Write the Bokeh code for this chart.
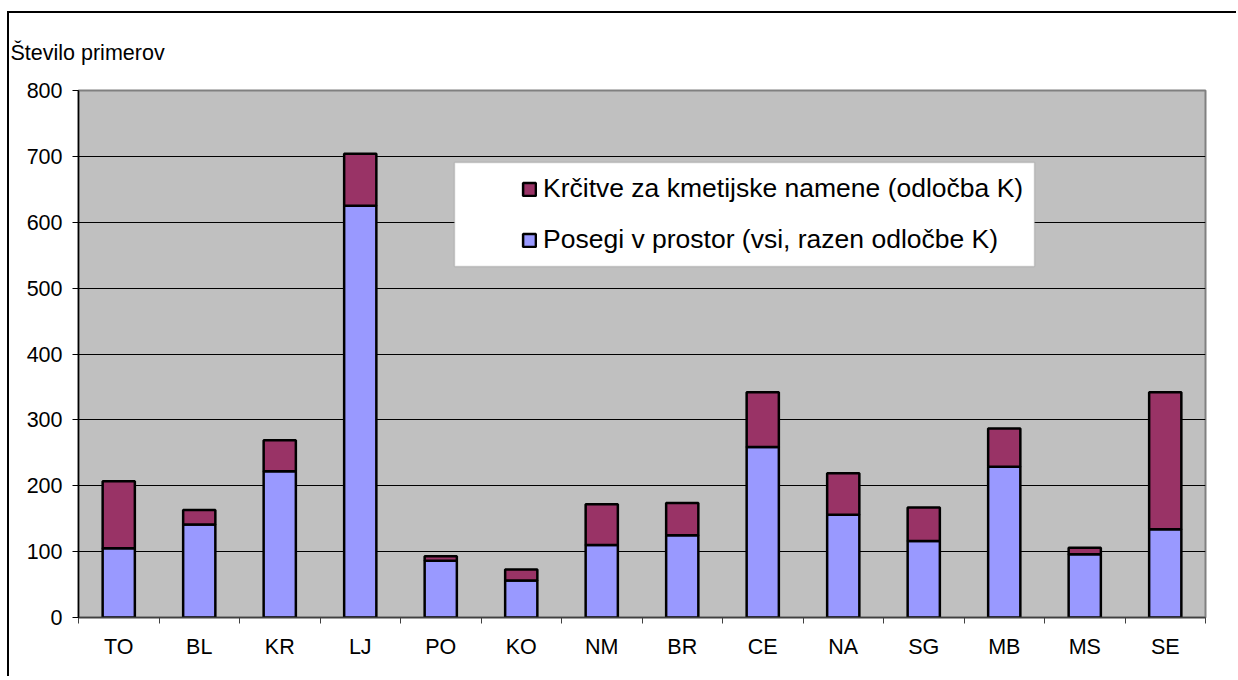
from bokeh.plotting import figure
from bokeh.models import (ColumnDataSource, FixedTicker, Legend, LegendItem,
                          BoxAnnotation, Range1d)
from bokeh.embed import file_html
from bokeh.resources import INLINE

categories = ["TO", "BL", "KR", "LJ", "PO", "KO", "NM", "BR", "CE", "NA", "SG", "MB", "MS", "SE"]
posegi = [105, 141, 222, 625, 86, 56, 110, 125, 259, 156, 116, 229, 96, 134]
krcitve = [102, 22, 47, 79, 7, 17, 62, 49, 83, 63, 51, 58, 10, 208]
y_ticks = [0, 100, 200, 300, 400, 500, 600, 700, 800]
series_names = ["Posegi v prostor (vsi, razen odločbe K)", "Krčitve za kmetijske namene (odločba K)"]
y_title = "Število primerov"

FONT = "Liberation Sans"
BLUE = "#9999FF"
MAROON = "#993366"

xs = [i + 0.5 for i in range(len(categories))]
src = ColumnDataSource(dict(x=xs, posegi=posegi, krcitve=krcitve))

p = figure(width=1229, height=665, output_backend="svg", toolbar_location=None,
           x_range=Range1d(0, len(categories)), y_range=Range1d(y_ticks[0], y_ticks[-1]),
           min_border_left=69, min_border_right=33, min_border_top=77, min_border_bottom=61,
           background_fill_color="#C0C0C0", border_fill_color="white",
           outline_line_color="#808080", outline_line_width=2,
           styles={"margin-top": "11px", "margin-left": "7px",
                   "border-top": "2px solid #000", "border-left": "2px solid #000"})

p.title.text = y_title
p.title.align = "left"
p.title.offset = -68
p.title.standoff = 51
p.title.text_font = FONT
p.title.text_font_size = "21.5px"
p.title.text_font_style = "normal"
p.title.text_color = "black"

rs = p.vbar_stack(["posegi", "krcitve"], x="x", width=0.4, source=src,
                  color=[BLUE, MAROON], line_color="black", line_width=2.5)
for r, c in zip(rs, [BLUE, MAROON]):
    r.glyph.fill_color = c
    r.glyph.line_color = "black"

# axes
p.xgrid.visible = False
p.ygrid.grid_line_color = "black"
p.ygrid.grid_line_width = 1
p.yaxis.ticker = FixedTicker(ticks=y_ticks)
p.yaxis.major_tick_out = 6
p.yaxis.major_tick_in = 0
p.yaxis.minor_tick_out = 0
p.yaxis.minor_tick_in = 0
p.yaxis.major_label_standoff = 10
p.yaxis.axis_line_color = "black"
p.yaxis.axis_line_width = 1.5
p.yaxis.major_tick_line_color = "black"
p.yaxis.major_label_text_font = FONT
p.yaxis.major_label_text_font_size = "21.5px"
p.yaxis.major_label_text_color = "black"

p.xaxis.ticker = FixedTicker(ticks=xs, minor_ticks=list(range(len(categories) + 1)))
p.xaxis.major_label_overrides = {x: c for x, c in zip(xs, categories)}
p.xaxis.major_tick_out = 0
p.xaxis.major_tick_in = 0
p.xaxis.minor_tick_out = 6
p.xaxis.minor_tick_in = 0
p.xaxis.minor_tick_line_color = "#404040"
p.xaxis.major_label_standoff = 11
p.xaxis.axis_line_color = "#404040"
p.xaxis.axis_line_width = 1.5
p.xaxis.major_label_text_font = FONT
p.xaxis.major_label_text_font_size = "21.5px"
p.xaxis.major_label_text_color = "black"

# legend box
box = BoxAnnotation(left=376, right=956, bottom=351, top=455,
                    left_units="screen", right_units="screen",
                    bottom_units="screen", top_units="screen",
                    fill_color="white", fill_alpha=1.0,
                    line_color="#808080", line_width=1.5)
p.add_layout(box)

legend = Legend(items=[LegendItem(label=series_names[1], renderers=[rs[1]]),
                       LegendItem(label=series_names[0], renderers=[rs[0]])],
                location=(443, 362), padding=0, margin=0, spacing=20,
                glyph_width=16, glyph_height=16, label_height=30, label_standoff=6,
                label_text_font=FONT, label_text_font_size="26.5px", label_text_color="black",
                background_fill_alpha=0, border_line_alpha=0)
p.add_layout(legend, "center")

open("out.html", "w").write(file_html(p, INLINE))
